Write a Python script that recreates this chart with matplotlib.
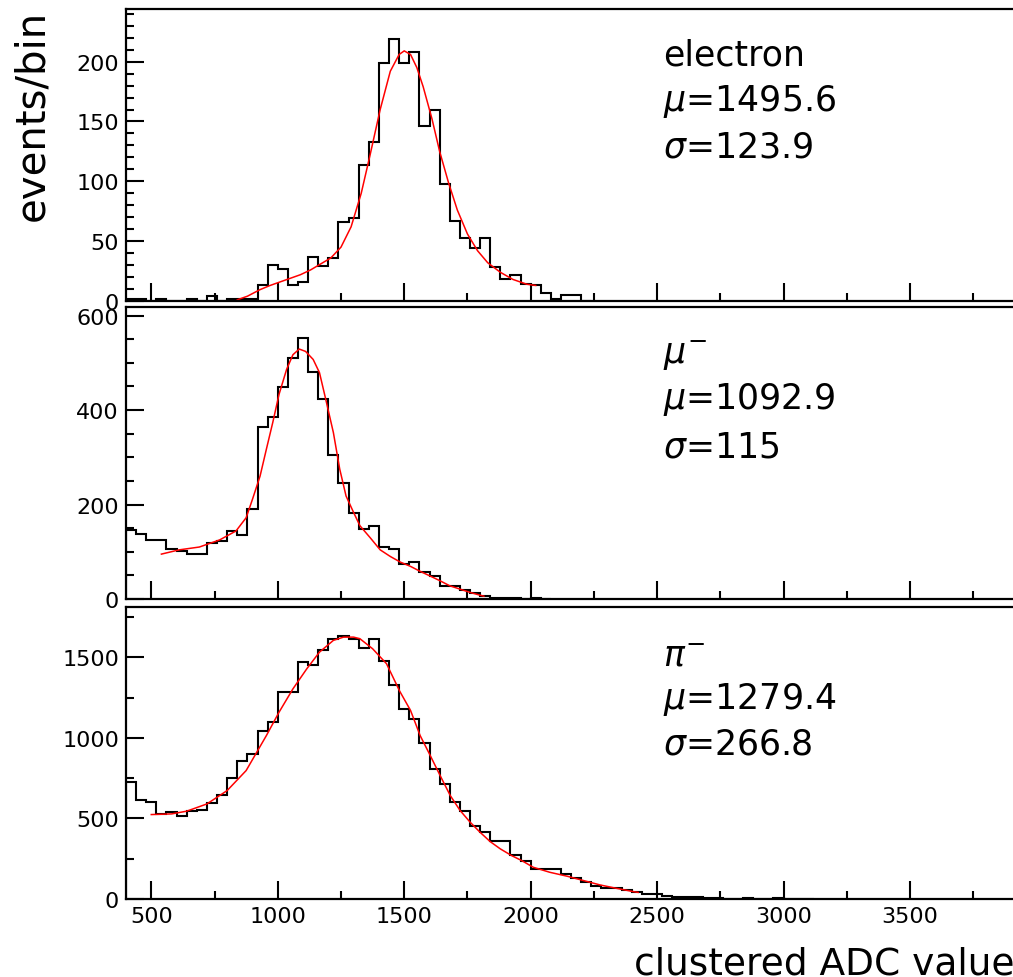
import numpy as np
import matplotlib
matplotlib.use("Agg")
import matplotlib.pyplot as plt
from matplotlib.ticker import MultipleLocator, NullFormatter

plt.rcParams["font.family"] = ["DejaVu Sans"]

# histogram bins: 40 ADC wide, first edge at 400
BIN_LO = 400
BIN_W = 40

# electron histogram (events per bin)
electron_counts = [2, 2, 0, 2, 0, 0, 2, 0, 4, 0, 2, 2, 2, 13, 30, 27, 13, 16, 37, 29,
                   36, 66, 69, 114, 133, 199, 219, 199, 208, 146, 160, 98, 67, 53, 44,
                   53, 28, 18, 22, 14, 13, 7, 2, 5, 5, 0]
electron_fit_x = [840, 880, 930, 970, 1010, 1050, 1090, 1130, 1170, 1210, 1250, 1290,
                  1330, 1365, 1405, 1445, 1480, 1500, 1525, 1550, 1575, 1610, 1640,
                  1675, 1710, 1750, 1790, 1830, 1880, 1930, 1985, 2020]
electron_fit_y = [1, 4, 9.5, 13, 16, 19, 22, 26, 31, 36, 45, 62, 90, 122, 160, 192,
                  206, 209, 206, 195, 179, 152, 125, 99, 76, 56, 42, 32, 24, 18, 14, 13]

# mu- histogram
muon_counts = [146, 137, 125, 125, 106, 102, 95, 95, 118, 123, 143, 136, 190, 363, 386,
               448, 510, 553, 480, 424, 304, 245, 183, 149, 155, 110, 106, 75, 79, 57,
               49, 28, 28, 18, 13, 7, 3, 2, 2, 1, 2, 0]
muon_fit_x = [540, 610, 690, 770, 835, 875, 900, 930, 955, 980, 1005, 1035, 1060, 1085,
              1110, 1140, 1165, 1190, 1220, 1245, 1270, 1300, 1325, 1365, 1405, 1445,
              1485, 1525, 1565, 1605, 1640, 1680, 1720, 1760, 1800, 1815]
muon_fit_y = [95, 104, 110, 125, 144, 172, 211, 260, 317, 373, 433, 486, 517, 529, 524,
              507, 479, 422, 352, 275, 218, 183, 155, 130, 104, 90, 78, 69, 58, 48, 39,
              28, 21, 14, 8, 6]

# pi- histogram
pion_counts = [729, 617, 605, 528, 542, 513, 545, 555, 596, 648, 752, 859, 901, 1041,
               1097, 1284, 1284, 1470, 1449, 1547, 1615, 1629, 1612, 1559, 1615, 1476,
               1330, 1180, 1115, 966, 807, 714, 605, 549, 455, 418, 362, 362, 273, 238,
               186, 186, 186, 155, 128, 104, 83, 66, 66, 58, 46, 31, 31, 17, 15, 14, 12,
               4, 4, 3, 3, 4, 3, 3, 4, 3, 3, 0]
pion_fit_x = [500, 580, 640, 720, 800, 875, 955, 1005, 1060, 1115, 1165, 1220, 1260,
              1300, 1325, 1375, 1430, 1482, 1525, 1563, 1603, 1642, 1682, 1721, 1761,
              1800, 1840, 1880, 1925, 1965, 2010, 2075, 2145, 2210, 2275, 2340, 2405, 2425]
pion_fit_y = [524, 528, 545, 590, 673, 797, 1014, 1159, 1304, 1429, 1532, 1605, 1625,
              1625, 1615, 1553, 1460, 1290, 1170, 1014, 890, 766, 642, 549, 476, 414,
              356, 311, 269, 238, 197, 166, 141, 114, 87, 66, 46, 41]

labels = [["electron", r"$\mu$=1495.6", r"$\sigma$=123.9"],
          [r"$\mu^{-}$", r"$\mu$=1092.9", r"$\sigma$=115"],
          [r"$\pi^{-}$", r"$\mu$=1279.4", r"$\sigma$=266.8"]]
y_tops = [244, 618, 1812]
y_major = [50, 200, 500]
y_minor = [10, 50, 250]
X_MIN, X_MAX = 400, 3990

W, H = 1013, 978
fig = plt.figure(figsize=(W / 100, H / 100), dpi=100)

panel_px = [(10, 302), (308, 600), (608, 900)]   # top/bottom pixel rows
left_px, right_px = 126, 1034   # right frame lies past the picture edge

data = [(electron_counts, electron_fit_x, electron_fit_y),
        (muon_counts, muon_fit_x, muon_fit_y),
        (pion_counts, pion_fit_x, pion_fit_y)]
label_rows = [(55, 102, 148), (357, 400, 447), (657, 700, 745)]

for i, ((counts, fx, fy), (t, b)) in enumerate(zip(data, panel_px)):
    ax = fig.add_axes([left_px / W, 1 - b / H, (right_px - left_px) / W, (b - t) / H])
    edges = BIN_LO + BIN_W * np.arange(len(counts) + 1)
    ax.stairs(counts, edges, color="black", lw=1.5)
    ax.plot(fx, fy, color="red", lw=1.1)
    ax.set_xlim(X_MIN, X_MAX)
    ax.set_ylim(0, y_tops[i])
    ax.xaxis.set_major_locator(MultipleLocator(500))
    ax.xaxis.set_minor_locator(MultipleLocator(250))
    ax.yaxis.set_major_locator(MultipleLocator(y_major[i]))
    ax.yaxis.set_minor_locator(MultipleLocator(y_minor[i]))
    ax.tick_params(which="both", direction="in", top=False, right=False, width=1.5,
                   labelsize=16, pad=5)
    ax.tick_params(which="major", length=13)
    ax.tick_params(which="minor", length=6)
    for s in ax.spines.values():
        s.set_linewidth(1.6)
    if i < 2:
        ax.xaxis.set_major_formatter(NullFormatter())
    for txt, yy in zip(labels[i], label_rows[i]):
        fig.text(663 / W, 1 - yy / H, txt, fontsize=25, ha="left", va="center")

fig.text(32 / W, 1 - 10 / H, "events/bin", rotation=90, fontsize=29,
         ha="center", va="top")
fig.text(634 / W, 1 - 975 / H, "clustered ADC value", fontsize=27,
         ha="left", va="baseline")

fig.savefig("out.png", dpi=100)
